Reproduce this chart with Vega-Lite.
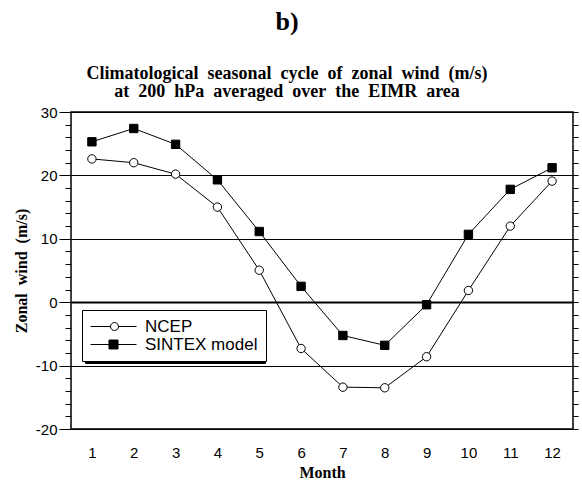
{
  "$schema": "https://vega.github.io/schema/vega-lite/v6.json",
  "width": 502,
  "height": 317,
  "autosize": "none",
  "padding": {"left": 71, "top": 112, "right": 9, "bottom": 53},
  "background": "white",
  "title": {
    "text": "b)",
    "subtitle": ["Climatological\u00a0 seasonal\u00a0 cycle\u00a0 of\u00a0 zonal\u00a0 wind\u00a0 (m/s)", "at\u00a0 200\u00a0 hPa\u00a0 averaged\u00a0 over\u00a0 the\u00a0 EIMR\u00a0 area"],
    "font": "Liberation Serif",
    "fontSize": 26,
    "fontWeight": "bold",
    "color": "black",
    "subtitleFont": "Liberation Serif",
    "subtitleFontSize": 18,
    "subtitleFontWeight": "bold",
    "subtitleColor": "black",
    "subtitleLineHeight": 18.5,
    "subtitlePadding": 30,
    "anchor": "middle",
    "dx": -35,
    "offset": 4
  },
  "config": {
    "view": {"stroke": "black", "strokeWidth": 1.5},
    "axis": {
      "labelFont": "Liberation Sans",
      "labelFontSize": 15,
      "labelColor": "black",
      "titleFont": "Liberation Serif",
      "titleFontSize": 16,
      "titleFontWeight": "bold",
      "titleColor": "black",
      "tickColor": "black",
      "domainColor": "black"
    }
  },
  "data": {
    "values": [
      {"month": 1, "series": "NCEP", "value": 22.6},
      {"month": 2, "series": "NCEP", "value": 22.0},
      {"month": 3, "series": "NCEP", "value": 20.2},
      {"month": 4, "series": "NCEP", "value": 15.0},
      {"month": 5, "series": "NCEP", "value": 5.05},
      {"month": 6, "series": "NCEP", "value": -7.3},
      {"month": 7, "series": "NCEP", "value": -13.4},
      {"month": 8, "series": "NCEP", "value": -13.5},
      {"month": 9, "series": "NCEP", "value": -8.6},
      {"month": 10, "series": "NCEP", "value": 1.85},
      {"month": 11, "series": "NCEP", "value": 12.0},
      {"month": 12, "series": "NCEP", "value": 19.1},
      {"month": 1, "series": "SINTEX model", "value": 25.3},
      {"month": 2, "series": "SINTEX model", "value": 27.4},
      {"month": 3, "series": "SINTEX model", "value": 24.9},
      {"month": 4, "series": "SINTEX model", "value": 19.3},
      {"month": 5, "series": "SINTEX model", "value": 11.15},
      {"month": 6, "series": "SINTEX model", "value": 2.5},
      {"month": 7, "series": "SINTEX model", "value": -5.25},
      {"month": 8, "series": "SINTEX model", "value": -6.8},
      {"month": 9, "series": "SINTEX model", "value": -0.4},
      {"month": 10, "series": "SINTEX model", "value": 10.7},
      {"month": 11, "series": "SINTEX model", "value": 17.8},
      {"month": 12, "series": "SINTEX model", "value": 21.2}
    ]
  },
  "encoding": {
    "x": {
      "field": "month",
      "type": "quantitative",
      "scale": {"domain": [0.5, 12.5], "nice": false, "zero": false},
      "axis": {
        "values": [1, 2, 3, 4, 5, 6, 7, 8, 9, 10, 11, 12],
        "ticks": false,
        "grid": false,
        "domain": false,
        "labelPadding": 16,
        "labelFlush": false,
        "title": "Month",
        "titlePadding": 4
      }
    }
  },
  "layer": [
    {
      "mark": {"type": "line", "color": "black", "strokeWidth": 1},
      "encoding": {
        "y": {
          "field": "value",
          "type": "quantitative",
          "scale": {"domain": [-20, 30], "nice": false},
          "axis": {
            "values": [-20, -18, -16, -14, -12, -10, -8, -6, -4, -2, 0, 2, 4, 6, 8, 10, 12, 14, 16, 18, 20, 22, 24, 26, 28, 30],
            "labelExpr": "datum.value % 10 === 0 ? '' + datum.value : ''",
            "tickSize": {"condition": {"test": "datum.value % 10 === 0", "value": 12}, "value": 6},
            "grid": true,
            "gridColor": "black",
            "gridOpacity": {"condition": {"test": "datum.value % 10 === 0", "value": 1}, "value": 0},
            "gridWidth": {"condition": {"test": "datum.value === 0", "value": 2}, "value": 1},
            "domain": false,
            "labelPadding": 2,
            "labelFlush": false,
            "title": "Zonal\u00a0 wind\u00a0 (m/s)",
            "titlePadding": 6
          }
        },
        "detail": {"field": "series"}
      }
    },
    {
      "mark": {"type": "point", "filled": true, "stroke": "black", "strokeWidth": 1, "opacity": 1, "size": 70},
      "encoding": {
        "y": {
          "field": "value",
          "type": "quantitative",
          "axis": {
            "orient": "right",
            "values": [-20, -18, -16, -14, -12, -10, -8, -6, -4, -2, 0, 2, 4, 6, 8, 10, 12, 14, 16, 18, 20, 22, 24, 26, 28, 30],
            "labels": false,
            "tickSize": 5,
            "grid": false,
            "domain": false,
            "title": null
          }
        },
        "shape": {
          "field": "series",
          "type": "nominal",
          "scale": {"domain": ["NCEP", "SINTEX model"], "range": ["circle", "square"]},
          "legend": null
        },
        "fill": {
          "field": "series",
          "type": "nominal",
          "scale": {"domain": ["NCEP", "SINTEX model"], "range": ["white", "black"]},
          "legend": null
        }
      }
    },
    {
      "transform": [{"filter": "datum.month > 100"}],
      "mark": {"type": "point", "filled": true, "strokeWidth": 1, "opacity": 1, "size": 256},
      "encoding": {
        "y": {"field": "value", "type": "quantitative", "axis": null},
        "shape": {
          "field": "series",
          "type": "nominal",
          "scale": {"domain": ["NCEP", "SINTEX model"], "range": ["M-1,0H1.5M2.5,0H4.75M2.5,0A0.5,0.5,0,1,1,1.5,0A0.5,0.5,0,1,1,2.5,0Z", "M-1,0H4.75M1.31,-0.56H2.44V0.56H1.31Z"]},
          "legend": {
            "title": null,
            "orient": "none",
            "legendX": 11,
            "legendY": 198,
            "zindex": 3,
            "direction": "vertical",
            "labelFont": "Liberation Sans",
            "labelFontSize": 17,
            "labelColor": "black",
            "symbolSize": 256,
            "symbolStrokeWidth": 1,
            "labelOffset": 38,
            "rowPadding": 0,
            "padding": 8,
            "strokeColor": "black",
            "fillColor": "white",
            "cornerRadius": 0
          }
        },
        "fill": {
          "field": "series",
          "type": "nominal",
          "scale": {"domain": ["NCEP", "SINTEX model"], "range": ["white", "black"]},
          "legend": {
            "title": null,
            "orient": "none",
            "legendX": 11,
            "legendY": 198,
            "zindex": 3,
            "direction": "vertical",
            "labelFont": "Liberation Sans",
            "labelFontSize": 17,
            "labelColor": "black",
            "symbolSize": 256,
            "symbolStrokeWidth": 1,
            "labelOffset": 38,
            "rowPadding": 0,
            "padding": 8,
            "strokeColor": "black",
            "fillColor": "white",
            "cornerRadius": 0
          }
        },
        "stroke": {
          "field": "series",
          "type": "nominal",
          "scale": {"domain": ["NCEP", "SINTEX model"], "range": ["black", "black"]},
          "legend": {
            "title": null,
            "orient": "none",
            "legendX": 11,
            "legendY": 198,
            "zindex": 3,
            "direction": "vertical",
            "labelFont": "Liberation Sans",
            "labelFontSize": 17,
            "labelColor": "black",
            "symbolSize": 256,
            "symbolStrokeWidth": 1,
            "labelOffset": 38,
            "rowPadding": 0,
            "padding": 8,
            "strokeColor": "black",
            "fillColor": "white",
            "cornerRadius": 0
          }
        }
      }
    },
    {
      "transform": [{"filter": "datum.month > 100"}],
      "mark": {"type": "point", "filled": true, "color": "black", "size": 256},
      "encoding": {
        "y": {"field": "value", "type": "quantitative", "axis": null},
        "strokeDash": {
          "field": "series",
          "type": "nominal",
          "scale": {"domain": ["NCEP", "SINTEX model"], "range": [[1, 0], [1, 0]]},
          "legend": {
            "title": null,
            "orient": "none",
            "legendX": 14,
            "legendY": 201,
            "zindex": 1,
            "direction": "vertical",
            "labelExpr": "''",
            "labelFont": "Liberation Sans",
            "labelFontSize": 17,
            "labelColor": "black",
            "symbolSize": 256,
            "symbolType": "square",
            "symbolStrokeWidth": 1,
            "symbolStrokeColor": "black",
            "symbolFillColor": "black",
            "labelOffset": 153,
            "rowPadding": 0,
            "padding": 5,
            "strokeColor": "black",
            "fillColor": "black",
            "cornerRadius": 0
          }
        }
      }
    }
  ],
  "resolve": {
    "axis": {"y": "independent"},
    "scale": {"shape": "independent", "fill": "independent", "stroke": "independent", "strokeDash": "independent"},
    "legend": {"shape": "independent", "fill": "independent", "stroke": "independent", "strokeDash": "independent"}
  }
}
